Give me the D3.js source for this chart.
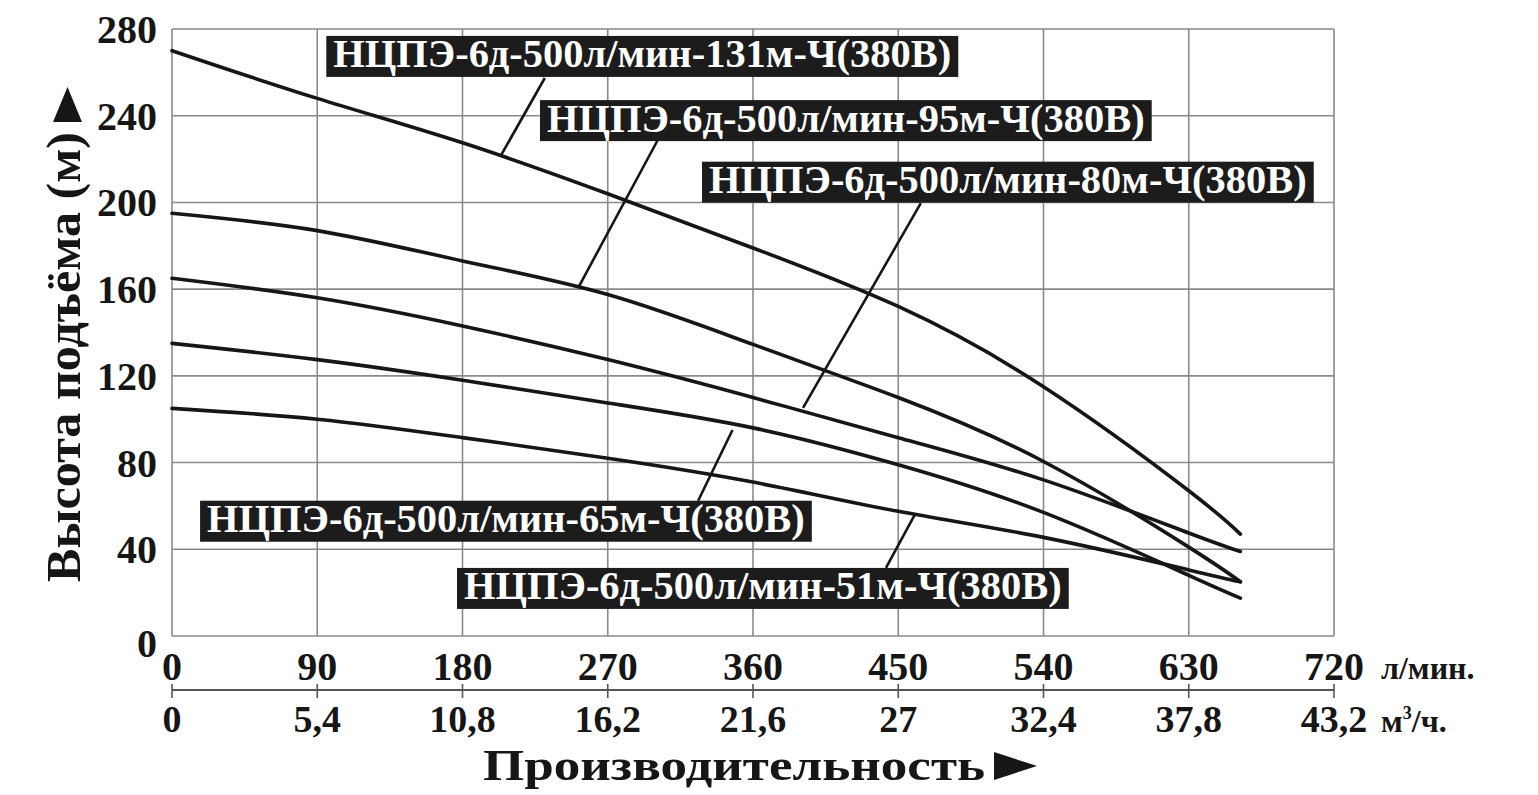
<!DOCTYPE html>
<html>
<head>
<meta charset="utf-8">
<script src="https://cdn.jsdelivr.net/npm/d3@7"></script>
<style>
    body { margin: 0; background: #fff; }
    svg text { font-family: "Liberation Serif", "Times New Roman", serif; font-weight: bold; }
</style>
</head>
<body>
<svg id="chart" width="1538" height="795"></svg>
<script>
// flow (l/min) ticks and the matching m3/h labels
const flowTicks = [0, 90, 180, 270, 360, 450, 540, 630, 720];
const cubicTicks = ['0', '5,4', '10,8', '16,2', '21,6', '27', '32,4', '37,8', '43,2'];
const headTicks = [0, 40, 80, 120, 160, 200, 240, 280];

// head (m) read at these flows
const flowPoints = [0, 90, 180, 270, 360, 450, 540, 630, 662];

const models = [
    'НЦПЭ-6д-500л/мин-131м-Ч(380В)',
    'НЦПЭ-6д-500л/мин-95м-Ч(380В)',
    'НЦПЭ-6д-500л/мин-80м-Ч(380В)',
    'НЦПЭ-6д-500л/мин-65м-Ч(380В)',
    'НЦПЭ-6д-500л/мин-51м-Ч(380В)'
];

const head131 = [270, 248, 227.5, 204, 179, 152, 115, 67, 47];
const head95 = [195, 187, 173, 157.5, 134.5, 110, 80.5, 41, 25];
const head80 = [165, 156, 143, 127.5, 110, 91.5, 72, 47.5, 39];
const head65 = [135, 127.5, 118, 107.5, 96, 79, 57, 28, 17.5];
const head51 = [105, 100, 91.5, 82, 71, 57.5, 45.5, 30.5, 25];

const heads = [head131, head95, head80, head65, head51];

// where each callout box sits (top-left, in chart units) and its leader line
const labelPlacement = [
    { box: [95.6, 276.8], leader: [[231, 257.4], [204, 221.9]] },
    { box: [228, 247.2], leader: [[301, 228.8], [251.6, 160.5]] },
    { box: [328.4, 218.8], leader: [[464, 199.7], [391, 105.2]] },
    { box: [17.4, 62.4], leader: [[326, 62.4], [347.3, 95]] },
    { box: [176.6, 31.4], leader: [[442.4, 31.4], [460.1, 55.8]] }
];

const plot = { left: 172, right: 1334, top: 29, bottom: 636 },
    gridColor = '#8a8a8a',
    inkColor = '#161616';

let svg, x, y;

function setScales() {
    x = d3.scaleLinear().domain([0, 720]).range([plot.left, plot.right]);
    y = d3.scaleLinear().domain([0, 280]).range([plot.bottom, plot.top]);
}

function buildGrid() {
    const g = svg.append('g').classed('grid', true);

    g.selectAll('line.v')
        .data(flowTicks)
        .join('line')
        .attr('class', 'v')
        .attr('x1', d => x(d)).attr('x2', d => x(d))
        .attr('y1', y(280)).attr('y2', y(0))
        .attr('stroke', gridColor)
        .attr('stroke-width', 1.6);

    g.selectAll('line.h')
        .data(headTicks)
        .join('line')
        .attr('class', 'h')
        .attr('x1', x(0)).attr('x2', x(720))
        .attr('y1', d => y(d)).attr('y2', d => y(d))
        .attr('stroke', gridColor)
        .attr('stroke-width', 1.6);
}

function buildAxes() {
    const g = svg.append('g').classed('axes', true);

    g.selectAll('text.head')
        .data(headTicks)
        .join('text')
        .attr('class', 'head')
        .attr('x', 157)
        .attr('y', d => y(d) + (d === 0 ? 21 : 14))
        .attr('text-anchor', 'end')
        .attr('fill', inkColor)
        .style('font-size', '40px')
        .text(d => d);

    g.selectAll('text.flow')
        .data(flowTicks)
        .join('text')
        .attr('class', 'flow')
        .attr('x', d => x(d))
        .attr('y', 680)
        .attr('text-anchor', 'middle')
        .attr('fill', inkColor)
        .style('font-size', '40px')
        .text(d => d);

    // second scale, m3/h
    const axisY = 690;

    g.append('line')
        .attr('x1', x(0)).attr('x2', x(720))
        .attr('y1', axisY).attr('y2', axisY)
        .attr('stroke', '#555')
        .attr('stroke-width', 1.8);

    g.selectAll('line.tick')
        .data(flowTicks)
        .join('line')
        .attr('class', 'tick')
        .attr('x1', d => x(d)).attr('x2', d => x(d))
        .attr('y1', axisY - 6).attr('y2', axisY + 8)
        .attr('stroke', '#555')
        .attr('stroke-width', 1.6);

    g.selectAll('text.cubic')
        .data(cubicTicks)
        .join('text')
        .attr('class', 'cubic')
        .attr('x', (d, i) => x(flowTicks[i]))
        .attr('y', 732)
        .attr('text-anchor', 'middle')
        .attr('fill', inkColor)
        .style('font-size', '38px')
        .text(d => d);

    g.append('text')
        .attr('x', 1381)
        .attr('y', 679)
        .attr('fill', inkColor)
        .style('font-size', '32px')
        .text('л/мин.');

    const m3 = g.append('text')
        .attr('x', 1381)
        .attr('y', 732)
        .attr('fill', inkColor)
        .style('font-size', '32px');

    m3.append('tspan').text('м');
    m3.append('tspan').attr('dy', -13).style('font-size', '18px').text('3');
    m3.append('tspan').attr('dy', 13).text('/ч.');
}

function buildTitles() {
    svg.append('text')
        .attr('x', 483)
        .attr('y', 780)
        .attr('fill', inkColor)
        .attr('textLength', 502)
        .attr('lengthAdjust', 'spacingAndGlyphs')
        .style('font-size', '44px')
        .text('Производительность');

    svg.append('path')
        .attr('d', 'M994,752 L1037,766 L994,780 Z')
        .attr('fill', inkColor);

    svg.append('text')
        .attr('transform', 'translate(80, 582) rotate(-90)')
        .attr('fill', inkColor)
        .attr('textLength', 450)
        .attr('lengthAdjust', 'spacingAndGlyphs')
        .style('font-size', '48px')
        .text('Высота подъёма (м)');

    svg.append('path')
        .attr('d', 'M53,122 L67.5,87 L82,122 Z')
        .attr('fill', inkColor);
}

function buildCurves() {
    const line = d3.line()
        .x(d => x(d[0]))
        .y(d => y(d[1]))
        .curve(d3.curveNatural);

    svg.append('g')
        .classed('curves', true)
        .selectAll('path')
        .data(heads)
        .join('path')
        .attr('d', h => line(flowPoints.map((f, i) => [f, h[i]])))
        .attr('fill', 'none')
        .attr('stroke', inkColor)
        .attr('stroke-width', 3.6)
        .attr('stroke-linecap', 'round');
}

function buildLabels() {
    const g = svg.append('g').classed('labels', true),
        boxH = 41,
        pad = 7,
        fontBase = 40;

    // leader lines first, boxes on top
    labelPlacement.forEach(p => {
        g.append('line')
            .attr('x1', x(p.leader[0][0])).attr('y1', y(p.leader[0][1]))
            .attr('x2', x(p.leader[1][0])).attr('y2', y(p.leader[1][1]))
            .attr('stroke', inkColor)
            .attr('stroke-width', 2.6);
    });

    // one font size for all, sized off the 51m label (598px of text)
    const probe = g.append('text').style('font-size', fontBase + 'px').text(models[4]);
    const fontSize = fontBase * 598 / probe.node().getComputedTextLength();
    probe.remove();

    models.forEach((name, i) => {
        const p = labelPlacement[i],
            bx = x(p.box[0]),
            by = y(p.box[1]);

        const rect = g.append('rect')
            .attr('x', bx)
            .attr('y', by)
            .attr('height', boxH)
            .attr('fill', '#1c1c1c');

        const t = g.append('text')
            .attr('x', bx + pad)
            .attr('y', by + 31.5)
            .attr('fill', '#fff')
            .style('font-size', fontSize + 'px')
            .text(name);

        rect.attr('width', t.node().getComputedTextLength() + pad * 2);
    });
}

function initChart() {
    svg = d3.select('#chart');
    setScales();
    buildGrid();
    buildCurves();
    buildAxes();
    buildTitles();
    buildLabels();
}

initChart();
</script>
</body>
</html>
